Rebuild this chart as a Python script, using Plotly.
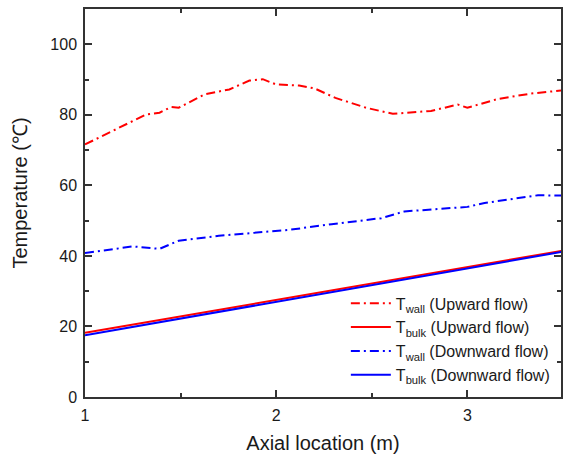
import plotly.graph_objects as go

# Data
x_wall_up = [1.00, 1.13, 1.32, 1.39, 1.45, 1.49, 1.625, 1.755, 1.86, 1.93, 2.00, 2.12, 2.20, 2.31, 2.47, 2.61, 2.81, 2.95, 3.00, 3.16, 3.33, 3.49]
y_wall_up = [71.6, 75.0, 80.1, 80.6, 82.2, 82.0, 85.8, 87.2, 89.7, 90.1, 88.6, 88.3, 87.5, 84.8, 82.0, 80.3, 81.1, 82.9, 82.0, 84.5, 86.0, 86.9]

x_wall_down = [1.00, 1.25, 1.39, 1.49, 1.70, 1.94, 2.07, 2.29, 2.55, 2.67, 3.00, 3.09, 3.37, 3.49]
y_wall_down = [40.8, 42.7, 42.0, 44.3, 45.7, 46.7, 47.4, 49.0, 50.7, 52.6, 53.9, 55.0, 57.2, 57.1]

x_bulk = [1.0, 3.5]
y_bulk_up = [18.2, 41.5]
y_bulk_down = [17.5, 41.2]

names = ["T<sub>wall</sub> (Upward flow)", "T<sub>bulk</sub> (Upward flow)",
         "T<sub>wall</sub> (Downward flow)", "T<sub>bulk</sub> (Downward flow)"]

x_ticks = [1, 2, 3]
y_ticks = [0, 20, 40, 60, 80, 100]

x_title = "Axial location (m)"
y_title = "Temperature (℃)"

dashdot = "9px,4px,2px,4px"

fig = go.Figure()
fig.add_trace(go.Scatter(x=x_wall_up, y=y_wall_up, mode="lines", name=names[0],
                         line=dict(color="#ff0000", width=2, dash=dashdot)))
fig.add_trace(go.Scatter(x=x_bulk, y=y_bulk_up, mode="lines", name=names[1],
                         line=dict(color="#ff0000", width=2)))
fig.add_trace(go.Scatter(x=x_wall_down, y=y_wall_down, mode="lines", name=names[2],
                         line=dict(color="#0000ff", width=2, dash=dashdot)))
fig.add_trace(go.Scatter(x=x_bulk, y=y_bulk_down, mode="lines", name=names[3],
                         line=dict(color="#0000ff", width=2)))

axis_common = dict(showgrid=False, zeroline=False, showline=True, linecolor="#333333",
                   linewidth=1.5, mirror="ticks", ticks="inside", ticklen=7, tickwidth=1.5,
                   tickcolor="#333333", ticklabelstandoff=3,
                   tickfont=dict(size=16, color="#1a1a1a"))

fig.update_xaxes(range=[1, 3.49], tickvals=x_ticks,
                 minor=dict(ticks="inside", ticklen=4, tickwidth=1.5, tickcolor="#333333", dtick=0.5, tick0=1),
                 title=dict(text=x_title, font=dict(size=20, color="#1a1a1a"), standoff=14),
                 **axis_common)
fig.update_yaxes(range=[0, 110], tickvals=y_ticks,
                 minor=dict(ticks="inside", ticklen=4, tickwidth=1.5, tickcolor="#333333", dtick=10, tick0=0),
                 **axis_common)

fig.add_annotation(text=y_title, xref="paper", yref="paper", x=-0.136, y=0.525,
                   xanchor="center", yanchor="middle", textangle=-90, showarrow=False,
                   font=dict(size=20, color="#1a1a1a"))

fig.update_layout(
    width=565, height=454, autosize=False,
    margin=dict(l=85, r=2, t=9, b=57),
    paper_bgcolor="white", plot_bgcolor="white",
    font=dict(family="Liberation Sans, Arial, sans-serif", color="#1a1a1a"),
    legend=dict(x=0.548, y=0.285, xanchor="left", yanchor="top", bgcolor="rgba(0,0,0,0)",
                font=dict(size=16, color="#1a1a1a"), tracegroupgap=0, itemwidth=40),
)

fig.write_html("out.html", config={"responsive": False, "displayModeBar": False},
               post_script="document.body.style.margin='0';document.body.style.overflow='hidden';")
